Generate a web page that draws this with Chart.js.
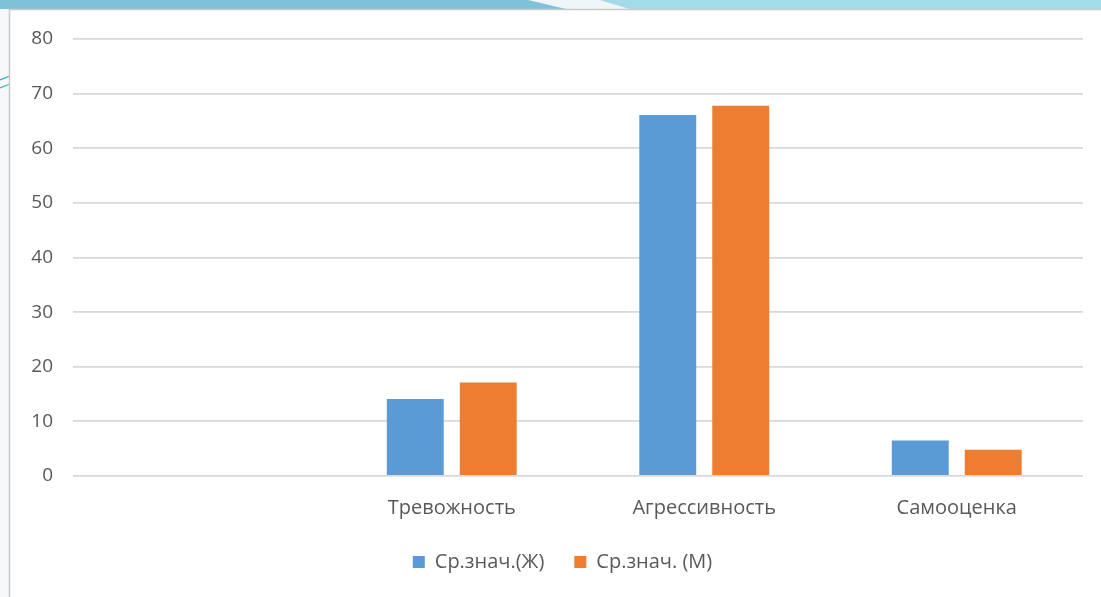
<!DOCTYPE html>
<html lang="ru">
<head>
<meta charset="utf-8">
<title>Ср.знач. по шкалам</title>
<script src="https://cdn.jsdelivr.net/npm/chart.js@4.4.1/dist/chart.umd.min.js"></script>
<style>
  html, body { margin: 0; padding: 0; background: #ffffff; }
  #wrap { width: 1101px; height: 597px; position: relative; }
  canvas { display: block; }
</style>
</head>
<body>
<div id="wrap"><canvas id="chart" width="1101" height="597"></canvas></div>
<script>
// Categories (first slot is an unlabeled, empty group)
const categories = ['', 'Тревожность', 'Агрессивность', 'Самооценка'];

// Mean values by group
const femaleMeans = [null, 14.1, 66.1, 6.5];
const maleMeans   = [null, 17.1, 67.8, 4.8];

const seriesNames = ['Ср.знач.(Ж)', 'Ср.знач. (М)'];

// Y axis range and step
const yMin = 0;
const yMax = 80;
const yStep = 10;

const TEXT = '#595959';
const FONT = '"Open Sans", "Noto Sans", sans-serif';

// Slide frame behind the chart: blue band on top, light margin on the left
const slideFrame = {
  id: 'slideFrame',
  beforeDraw(chart) {
    const ctx = chart.ctx;
    const W = chart.width, H = chart.height;
    ctx.save();
    ctx.fillStyle = '#f6f8f9';
    ctx.fillRect(0, 0, W, H);

    // top band, darker left part
    ctx.fillStyle = '#7fc2d7';
    ctx.fillRect(0, 0, W, 9);
    // lighter right part
    ctx.fillStyle = '#a3dbe9';
    ctx.beginPath();
    ctx.moveTo(600, 0); ctx.lineTo(W, 0); ctx.lineTo(W, 9); ctx.lineTo(630, 9);
    ctx.closePath(); ctx.fill();
    // pale wedge between them
    ctx.fillStyle = '#eef6f8';
    ctx.beginPath();
    ctx.moveTo(528, 0); ctx.lineTo(600, 0); ctx.lineTo(630, 9); ctx.lineTo(566, 9);
    ctx.closePath(); ctx.fill();

    // thin teal curves in the left margin
    ctx.lineWidth = 1.2;
    ctx.strokeStyle = '#24b3c0';
    ctx.beginPath(); ctx.moveTo(0, 80); ctx.quadraticCurveTo(5, 78, 10, 76); ctx.stroke();
    ctx.strokeStyle = '#2cc3a8';
    ctx.beginPath(); ctx.moveTo(0, 88); ctx.quadraticCurveTo(5, 86, 10, 84); ctx.stroke();

    // white panel with a soft grey edge
    ctx.fillStyle = '#ffffff';
    ctx.fillRect(9, 9, W - 9, H - 9);
    ctx.strokeStyle = '#c9c9c9';
    ctx.lineWidth = 1.5;
    ctx.beginPath();
    ctx.moveTo(9.5, H); ctx.lineTo(9.5, 9.5); ctx.lineTo(W, 9.5);
    ctx.stroke();
    ctx.restore();
  }
};

// Nudge the legend row slightly to the right of the canvas centre
const legendShift = {
  id: 'legendShift',
  afterLayout(chart) {
    if (chart.legend) {
      chart.legend.left += 21;
      chart.legend.right += 21;
    }
  }
};

new Chart(document.getElementById('chart'), {
  type: 'bar',
  data: {
    labels: categories,
    datasets: [
      {
        label: seriesNames[0],
        data: femaleMeans,
        backgroundColor: '#5b9bd5',
        borderWidth: 0,
        categoryPercentage: 0.578,
        barPercentage: 0.78
      },
      {
        label: seriesNames[1],
        data: maleMeans,
        backgroundColor: '#ed7d31',
        borderWidth: 0,
        categoryPercentage: 0.578,
        barPercentage: 0.78
      }
    ]
  },
  options: {
    responsive: false,
    animation: false,
    layout: { padding: { top: 39, right: 18, bottom: 15, left: 0 } },
    plugins: {
      legend: {
        position: 'bottom',
        labels: {
          color: TEXT,
          font: { family: FONT, size: 20 },
          boxWidth: 12,
          boxHeight: 12,
          padding: 30
        }
      },
      tooltip: { enabled: false },
      title: { display: false }
    },
    scales: {
      x: {
        grid: { display: false, drawTicks: false },
        border: { display: false },
        ticks: {
          color: TEXT,
          font: { family: FONT, size: 20 },
          padding: 20,
          maxRotation: 0,
          autoSkip: false
        },
        afterFit(scale) { scale.height = 46; }
      },
      y: {
        min: yMin,
        max: yMax,
        grid: { color: '#d9d9d9', lineWidth: 1.8, drawTicks: false },
        border: { display: false },
        ticks: {
          stepSize: yStep,
          color: TEXT,
          font: { family: FONT, size: 19 },
          padding: 20
        },
        afterFit(scale) { scale.width = 73; }
      }
    }
  },
  plugins: [slideFrame, legendShift]
});
</script>
</body>
</html>
